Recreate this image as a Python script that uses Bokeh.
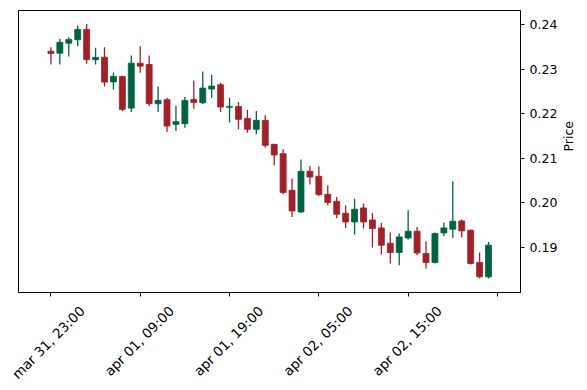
import math
from bokeh.plotting import figure
from bokeh.models import ColumnDataSource, Range1d, LinearAxis, FixedTicker
from bokeh.embed import file_html
from bokeh.resources import INLINE

tick_labels = ["mar 31, 23:00", "apr 01, 09:00", "apr 01, 19:00", "apr 02, 05:00", "apr 02, 15:00", ""]
tick_positions = [0, 10, 20, 30, 40, 50]

opens = [0.2340, 0.23356, 0.2358, 0.23657, 0.2389, 0.2321, 0.23267, 0.2271, 0.22834, 0.22123,
         0.2313, 0.2310, 0.2222, 0.22312, 0.21758, 0.21774, 0.22318, 0.22244, 0.2255, 0.22648,
         0.2214, 0.22161, 0.21892, 0.21646, 0.21848, 0.21309, 0.2110, 0.20278, 0.19792, 0.20704,
         0.20592, 0.20188, 0.20031, 0.19762, 0.19567, 0.19882, 0.19612, 0.19433, 0.1909, 0.18881,
         0.19208, 0.19359, 0.18859, 0.18657, 0.19321, 0.19404, 0.1959, 0.19381, 0.18657, 0.18334]
highs = [0.2349, 0.2368, 0.23715, 0.2398, 0.2401, 0.2348, 0.2349, 0.2292, 0.2285, 0.23305,
         0.2351, 0.23305, 0.2261, 0.22357, 0.22177, 0.2237, 0.22744, 0.22946, 0.22872, 0.22693,
         0.22357, 0.22258, 0.22087, 0.22056, 0.2196, 0.21325, 0.21197, 0.2054, 0.20967, 0.20823,
         0.20816, 0.2039, 0.20128, 0.19942, 0.2009, 0.1998, 0.19769, 0.19545, 0.1933, 0.19307,
         0.1983, 0.19455, 0.19135, 0.1933, 0.19554, 0.2048, 0.19621, 0.19397, 0.18881, 0.19119]
lows = [0.2310, 0.2310, 0.2328, 0.2351, 0.2312, 0.2310, 0.2261, 0.2254, 0.22056, 0.22034,
        0.22917, 0.22168, 0.22034, 0.21585, 0.2161, 0.21684, 0.2211, 0.22213, 0.22357, 0.22034,
        0.2180, 0.21646, 0.21572, 0.21534, 0.2123, 0.20839, 0.20188, 0.1968, 0.19769, 0.20406,
        0.20143, 0.19942, 0.1965, 0.19433, 0.19285, 0.19419, 0.18995, 0.18836, 0.18634, 0.18596,
        0.19173, 0.1882, 0.18522, 0.18634, 0.19253, 0.19209, 0.19217, 0.18612, 0.18298, 0.18298]
closes = [0.2335, 0.2360, 0.23664, 0.2389, 0.2321, 0.2326, 0.22706, 0.22834, 0.22094, 0.23132,
          0.23065, 0.22222, 0.22296, 0.2172, 0.21818, 0.22296, 0.22251, 0.22572, 0.22617, 0.22146,
          0.22161, 0.2187, 0.21646, 0.21848, 0.21287, 0.2107, 0.20226, 0.19814, 0.20704, 0.20576,
          0.20182, 0.20002, 0.1974, 0.19567, 0.19852, 0.19567, 0.19419, 0.19045, 0.18881, 0.19231,
          0.19359, 0.18872, 0.18657, 0.19307, 0.19433, 0.19583, 0.19366, 0.18635, 0.18334, 0.19045]

UP = "#006340"
DOWN = "#A02128"

idx = list(range(len(opens)))
colors = [UP if c >= o else DOWN for o, c in zip(opens, closes)]
src = ColumnDataSource(dict(
    x=idx, open=opens, close=closes, high=highs, low=lows,
    top=[max(o, c) for o, c in zip(opens, closes)],
    bottom=[min(o, c) for o, c in zip(opens, closes)],
    color=colors,
))

FONT = "DejaVu Sans"
FS = "12.5px"
FS_X = "13.5px"

p = figure(width=587, height=390, output_backend="svg", toolbar_location=None,
           x_range=Range1d(-3.63, 52.58), y_range=Range1d(0.17983, 0.24314),
           y_axis_location=None, x_axis_location=None,
           min_border_left=18, min_border_right=67, min_border_top=10, min_border_bottom=98)
p.background_fill_color = "white"
p.border_fill_color = "white"
p.outline_line_color = "black"
p.outline_line_width = 1
p.outline_line_alpha = 1.0
p.grid.visible = False

p.segment(x0="x", y0="low", x1="x", y1="high", color="color", line_width=1.3, source=src)
p.vbar(x="x", top="top", bottom="bottom", width=0.67, fill_color="color",
       line_color="color", line_width=0.8, source=src)

yaxis = LinearAxis(axis_label="Price")
yaxis.ticker = FixedTicker(ticks=[0.19, 0.20, 0.21, 0.22, 0.23, 0.24])
yaxis.major_label_overrides = {0.19: "0.19", 0.20: "0.20", 0.21: "0.21", 0.22: "0.22", 0.23: "0.23", 0.24: "0.24"}
yaxis.minor_tick_line_color = None
yaxis.major_tick_in = 0
yaxis.major_tick_out = 4
yaxis.major_tick_line_color = "black"
yaxis.axis_line_color = "black"
yaxis.major_label_text_font = FONT
yaxis.major_label_text_font_size = FS
yaxis.major_label_text_color = "black"
yaxis.major_label_standoff = 5
yaxis.axis_label_text_font = FONT
yaxis.axis_label_text_font_size = FS
yaxis.axis_label_text_font_style = "normal"
yaxis.axis_label_text_color = "black"
yaxis.axis_label_standoff = 8
try:
    yaxis.axis_label_orientation = math.pi / 2  # read bottom-to-top
except Exception:
    pass
p.add_layout(yaxis, "right")

# tick marks at the candle indices
xticks = LinearAxis()
xticks.ticker = FixedTicker(ticks=tick_positions)
xticks.major_label_overrides = {pos: "" for pos in tick_positions}
xticks.major_label_text_font_size = "1px"
xticks.major_label_standoff = 0
xticks.minor_tick_line_color = None
xticks.major_tick_in = 0
xticks.major_tick_out = 4
xticks.major_tick_line_color = "black"
xticks.axis_line_color = "black"
p.add_layout(xticks, "below")

# rotated labels, shifted so that each one is centred under its tick (matplotlib style)
LABEL_SHIFT = 3.5
xlabels = LinearAxis()
xlabels.ticker = FixedTicker(ticks=[t + LABEL_SHIFT for t in tick_positions])
xlabels.major_label_overrides = {t + LABEL_SHIFT: lab for t, lab in zip(tick_positions, tick_labels)}
xlabels.minor_tick_line_color = None
xlabels.major_tick_line_color = None
xlabels.major_tick_in = 0
xlabels.major_tick_out = 0
xlabels.axis_line_color = None
xlabels.major_label_orientation = math.pi / 4
xlabels.major_label_text_font = FONT
xlabels.major_label_text_font_size = FS_X
xlabels.major_label_text_color = "black"
xlabels.major_label_standoff = 12
p.add_layout(xlabels, "below")

open("out.html", "w").write(file_html(p, INLINE))
